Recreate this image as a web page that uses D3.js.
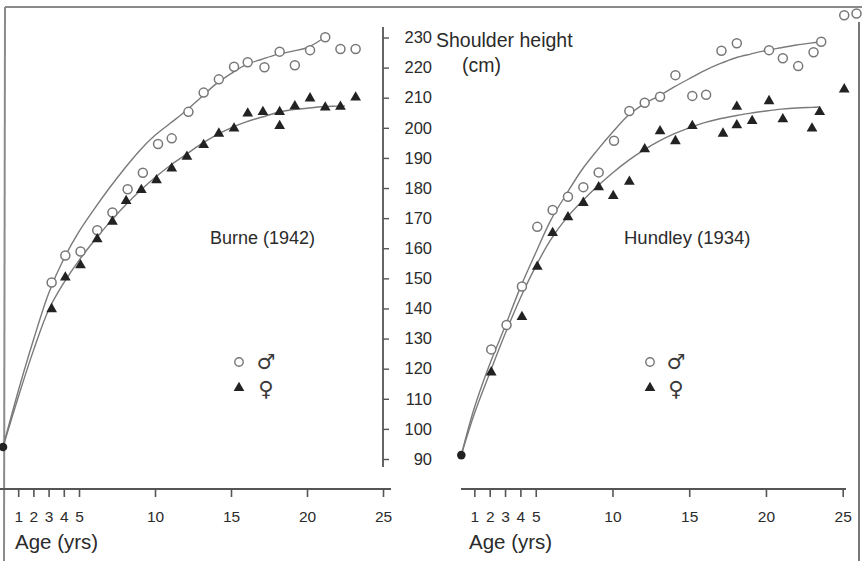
<!DOCTYPE html>
<html><head><meta charset="utf-8">
<script src="https://cdn.jsdelivr.net/npm/d3@7"></script>
<style>html,body{margin:0;padding:0;background:#fff;}svg{display:block;}</style>
</head><body>
<script>
// ---------- data (age in years, shoulder height in cm) ----------
const ageTicks = [1, 2, 3, 4, 5, 10, 15, 20, 25];
const heightTicks = [90, 100, 110, 120, 130, 140, 150, 160, 170, 180, 190, 200, 210, 220, 230];

const birthBurne = [[0, 94]];
const burneMale = [[3.2,148.6],[4.1,157.6],[5.1,158.9],[6.2,166],[7.2,171.9],[8.2,179.6],[9.2,185.1],[10.2,194.6],[11.1,196.5],[12.2,205.3],[13.2,211.7],[14.2,216.1],[15.2,220.3],[16.1,221.8],[17.2,220.1],[18.2,225.3],[19.2,220.8],[20.2,225.8],[21.2,230.1],[22.2,226.2],[23.2,226.2]];
const burneFemale = [[3.2,139.8],[4.1,150.3],[5.1,154.4],[6.2,163],[7.2,168.8],[8.1,175.7],[9.1,179.4],[10.1,182.6],[11.1,186.5],[12.1,190.4],[13.2,194.3],[14.2,198.1],[15.2,199.8],[16.1,204.8],[17.1,205.3],[18.2,205.3],[18.2,200.6],[19.2,207.2],[20.2,209.8],[21.2,206.8],[22.2,207],[23.2,210.1]];
const burneMaleCurve = [[0,94],[1,112.5],[2,129.5],[3,145],[4,156.5],[5,165.5],[6,173],[7,180],[8,186.5],[9,192.5],[10,197.5],[11,201.5],[12,205.5],[13,210],[14,214.5],[15,218],[16,221],[17,222.7],[18,224.3],[19,225.4],[20,226.6],[21,229.5]];
const burneFemaleCurve = [[0,94],[1,110.5],[2,126],[3,139.5],[4,148.5],[5,156],[6,162.5],[7,168.5],[8,174],[9,179],[10,183.5],[11,187.5],[12,191],[13,194.5],[14,197.5],[15,200],[16,202],[17,203.5],[18,205],[19,206],[20,206.5],[21,207],[22,207.2],[22.5,207.3]];

const birthHundley = [[0.15, 91.3]];
const hundleyMale = [[2.1,126.4],[3.1,134.5],[4.1,147.3],[5.1,167.1],[6.1,172.7],[7.1,177.1],[8.1,180.3],[9.1,185.2],[10.1,195.7],[11.1,205.6],[12.1,208.3],[13.1,210.3],[14.1,217.5],[15.2,210.6],[16.1,211],[17.1,225.6],[18.1,228.1],[20.2,225.8],[21.1,223.1],[22.1,220.5],[23.1,225.1],[23.6,228.6],[25.1,237.4],[25.9,238]];
const hundleyFemale = [[2.1,118.8],[4.1,137.2],[5.1,153.9],[6.1,165.1],[7.1,170.3],[8.1,175.1],[9.1,180.3],[10.05,177.4],[11.1,182.1],[12.1,192.9],[13.1,198.9],[14.1,195.6],[15.2,200.6],[17.2,198.1],[18.1,207],[18.1,200.9],[19.1,202.3],[20.2,208.9],[21.1,202.9],[23.0,199.8],[23.5,205.3],[25.1,212.8]];
const hundleyMaleCurve = [[0.15,91.3],[1,107],[2,121.5],[3,134],[4,147],[5,158.5],[6,169.5],[7,178],[8,186],[9,192.5],[10,198.5],[11,204],[12,207.8],[13,210.5],[14,213.5],[15,216.3],[16,219],[17,221.3],[18,223.2],[19,224.5],[20,225.7],[21,226.6],[22,227.5],[23,228.2],[23.6,228.6]];
const hundleyFemaleCurve = [[0.15,91.3],[1,105],[2,118.5],[3,131.5],[4,143.5],[5,154],[6,163],[7,170],[8,175.5],[9,180.5],[10,185],[11,189],[12,192.5],[13,195.5],[14,198],[15,200],[16,201.7],[17,203],[18,204],[19,204.9],[20,205.6],[21,206.2],[22,206.6],[23,206.8],[23.5,206.9]];

const panelTitles = ["Burne (1942)", "Hundley (1934)"];
const axisTitleY = ["Shoulder height", "(cm)"];
const axisTitleX = "Age (yrs)";
const legendLabels = ["\u2642", "\u2640"];

// ---------- drawing ----------
const W = 862, H = 561;
const svg = d3.select("body").append("svg").attr("width", W).attr("height", H);
const ink = "#2b2b2b", lineCol = "#7a7a7a", axisCol = "#555";
const font = "'Liberation Sans', Arial, Helvetica, sans-serif";

// frame (scanned page border)
svg.append("line").attr("x1",5).attr("y1",7).attr("x2",W).attr("y2",7).attr("stroke","#8a8a8a").attr("stroke-width",2);
svg.append("line").attr("x1",5).attr("y1",7).attr("x2",4).attr("y2",H).attr("stroke","#8a8a8a").attr("stroke-width",2);
svg.append("line").attr("x1",859).attr("y1",22).attr("x2",859).attr("y2",H).attr("stroke","#777").attr("stroke-width",2);

const y = d3.scaleLinear().domain([90, 230]).range([459, 37.5]);

const panels = [
  {x: d3.scaleLinear().domain([0,25]).range([3,383]), axisFrom: 0, axisTo: 391,
   male: burneMale, female: burneFemale, mc: burneMaleCurve, fc: burneFemaleCurve, birth: birthBurne,
   title: panelTitles[0], tx: 210, legX: 239, legSymX: 266, ageX: 15},
  {x: d3.scaleLinear().domain([0,25]).range([459,842.7]), axisFrom: 461, axisTo: 846,
   male: hundleyMale, female: hundleyFemale, mc: hundleyMaleCurve, fc: hundleyFemaleCurve, birth: birthHundley,
   title: panelTitles[1], tx: 624, legX: 650, legSymX: 676, ageX: 469}
];

const baseY = 489;
const tri = d3.symbol().type(d3.symbolTriangle).size(50);

panels.forEach(p => {
  const g = svg.append("g");
  // x axis
  const ax = g.append("g").attr("transform", `translate(0,${baseY})`)
    .call(d3.axisBottom(p.x).tickValues(ageTicks).tickSize(8).tickPadding(18).tickFormat(d3.format("d")));
  ax.select(".domain").remove();
  ax.selectAll(".tick line").attr("stroke", axisCol).attr("stroke-width", 1.6);
  ax.selectAll(".tick text").attr("fill", ink).attr("font-family", font).attr("font-size", 15.5).attr("dy", 0).attr("y", 33);
  g.append("line").attr("x1", p.axisFrom).attr("x2", p.axisTo).attr("y1", baseY).attr("y2", baseY)
    .attr("stroke", axisCol).attr("stroke-width", 1.8);
  g.append("text").attr("x", p.ageX).attr("y", 549).text(axisTitleX)
    .attr("font-family", font).attr("font-size", 20.5).attr("fill", ink);

  // curves
  const line = d3.line().x(d => p.x(d[0])).y(d => y(d[1])).curve(d3.curveCatmullRom);
  [p.mc, p.fc].forEach(c => g.append("path").attr("d", line(c)).attr("fill","none")
    .attr("stroke", lineCol).attr("stroke-width", 1.4));

  // birth point
  g.selectAll(null).data(p.birth).join("circle").attr("cx", d => p.x(d[0])).attr("cy", d => y(d[1]))
    .attr("r", 4.3).attr("fill", "#222");

  // males (open circles)
  g.selectAll(null).data(p.male).join("circle").attr("cx", d => p.x(d[0])).attr("cy", d => y(d[1]))
    .attr("r", 4.5).attr("fill", "#fff").attr("stroke", "#777").attr("stroke-width", 1.5);
  // females (filled triangles)
  g.selectAll(null).data(p.female).join("path").attr("d", tri)
    .attr("transform", d => `translate(${p.x(d[0])},${y(d[1])})`).attr("fill", "#222");

  // title
  g.append("text").attr("x", p.tx).attr("y", 244).text(p.title)
    .attr("font-family", font).attr("font-size", p === panels[0] ? 18 : 18.5).attr("fill", ink);

  // legend
  g.append("circle").attr("cx", p.legX).attr("cy", 362).attr("r", 4.2)
    .attr("fill", "#fff").attr("stroke", "#777").attr("stroke-width", 1.4);
  g.append("path").attr("d", tri).attr("transform", `translate(${p.legX},${388})`).attr("fill", "#222");
  g.append("text").attr("x", p.legSymX).attr("y", 369).text(legendLabels[0]).attr("text-anchor","middle")
    .attr("font-family", "'DejaVu Sans', sans-serif").attr("font-size", 21).attr("font-weight", "bold").attr("fill", "#3a3a3a");
  g.append("text").attr("x", p.legSymX).attr("y", 396).text(legendLabels[1]).attr("text-anchor","middle")
    .attr("font-family", "'DejaVu Sans', sans-serif").attr("font-size", 21).attr("font-weight", "bold").attr("fill", "#3a3a3a");
});

// shared y axis in the middle
const yAxisX = 383;
svg.append("line").attr("x1", yAxisX).attr("x2", yAxisX).attr("y1", 27).attr("y2", 467)
  .attr("stroke", axisCol).attr("stroke-width", 1.8);
const ya = svg.append("g").attr("transform", `translate(${yAxisX},0)`)
  .call(d3.axisRight(y).tickValues(heightTicks).tickSize(6).tickPadding(0).tickFormat(d3.format("d")));
ya.select(".domain").remove();
ya.selectAll(".tick line").attr("stroke", axisCol).attr("stroke-width", 1.4);
ya.selectAll(".tick text").attr("x", 49).attr("text-anchor", "end").attr("fill", ink)
  .attr("font-family", font).attr("font-size", 16.5);

svg.append("text").attr("x", 436).attr("y", 47).text(axisTitleY[0])
  .attr("font-family", font).attr("font-size", 19.5).attr("fill", ink);
svg.append("text").attr("x", 462).attr("y", 72).text(axisTitleY[1])
  .attr("font-family", font).attr("font-size", 19.5).attr("fill", ink);
</script>
</body></html>
